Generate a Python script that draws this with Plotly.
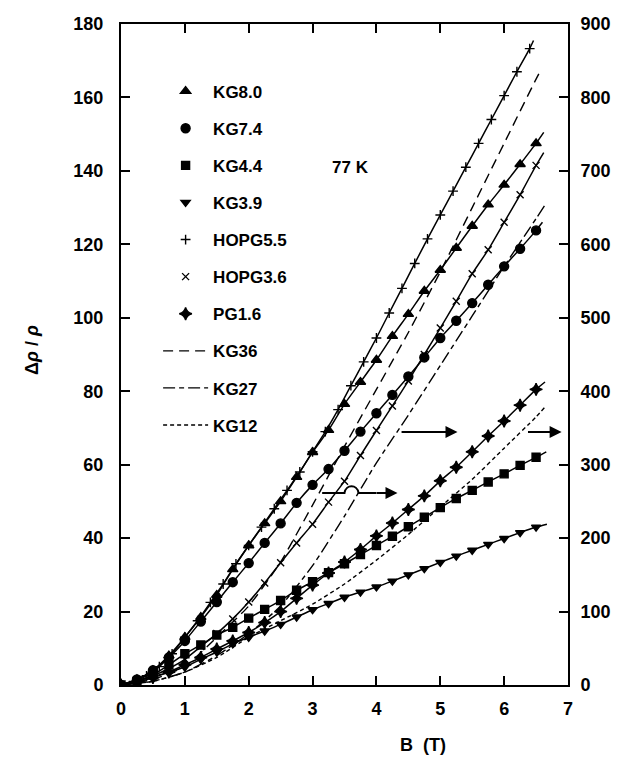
import plotly.graph_objects as go

# ---------------- data ----------------
B25 = [0, 0.25, 0.5, 0.75, 1, 1.25, 1.5, 1.75, 2, 2.25, 2.5, 2.75, 3, 3.25,
       3.5, 3.75, 4, 4.25, 4.5, 4.75, 5, 5.25, 5.5, 5.75, 6, 6.25, 6.5]
B20 = [0, 0.2, 0.4, 0.6, 0.8, 1.0, 1.2, 1.4, 1.6, 1.8, 2.0, 2.2, 2.4, 2.6, 2.8,
       3.0, 3.2, 3.4, 3.6, 3.8, 4.0, 4.2, 4.4, 4.6, 4.8, 5.0, 5.2, 5.4, 5.6,
       5.8, 6.0, 6.2, 6.4]
B50 = [0, 0.5, 1, 1.5, 2, 2.5, 3, 3.5, 4, 4.5, 5, 5.5, 6, 6.5]

# left axis (Δρ/ρ)
KG80 = [0, 1.5, 4, 8, 13, 18.5, 24.5, 31.5, 38, 44, 50, 56.6, 63.4, 69.4,
        76.5, 82.5, 88.5, 95, 101, 107.3, 113, 119, 125, 130.8, 136.2, 141.8, 147.5]
KG80_end = (6.62, 150.5)
KG74 = [0, 1.5, 4, 7.5, 12, 17.3, 22.6, 28, 33.2, 38.7, 44, 49.6, 54.5, 58.8,
        63.8, 69, 74, 79, 84, 89.2, 94.5, 99.2, 104, 109, 114, 118.8, 123.8]
KG74_end = (6.6, 126)
KG44 = [0, 1, 2.8, 5.5, 8.5, 10.9, 13.6, 15.7, 18.2, 20.6, 23, 25.8, 28.1, 30.6,
        33, 35.5, 38, 40.5, 43.1, 45.7, 48.3, 50.8, 53, 55.3, 57.5, 59.8, 62]
KG44_end = (6.66, 63.5)
KG39 = [0, 1.2, 2.3, 3.5, 4.9, 7, 9, 11.2, 13, 14.7, 16.5, 18.5, 20.5, 22.2,
        23.9, 25.3, 26.7, 28.3, 30, 31.7, 33.4, 35.1, 36.7, 38.3, 39.9, 41.5, 43]
KG39_end = (6.67, 43.8)
HOPG55 = [0, 1, 2.5, 5, 8.5, 13, 17.5, 22.5, 27.5, 33, 38, 43, 48, 53, 58,
          63.5, 69, 75, 81.5, 88, 94.5, 101.3, 108, 114.8, 121.5, 128, 134.5,
          141, 147.5, 154, 160.5, 167, 173.3]
HOPG55_end = (6.46, 175.5)
PG16 = [0, 0.8, 2, 3.5, 5.5, 7.5, 9.8, 12, 14.3, 17, 20, 23.6, 27.2, 30.5,
        33.5, 36.9, 40.6, 44.1, 47.8, 51.5, 55.6, 59.3, 63.5, 67.8, 71.9, 76.2, 80.5]
PG16_end = (6.64, 82.5)
KG36 = [0, 1.5, 5, 13, 21.5, 33.5, 49, 65, 80.5, 96, 112.5, 130, 147.5, 165]
KG36_end = (6.56, 167)

# right axis (×5 scale)
HOPG36 = [0, 5, 12.5, 22.5, 35, 52.5, 70, 90, 113, 139, 166.5, 193.5, 219,
          249, 277.5, 312.5, 346.5, 380, 414, 450, 486, 522.5, 560, 592.5,
          630, 667.5, 707.5]
HOPG36_end = (6.62, 725)
KG27 = [0, 5, 17.5, 40, 70, 107.5, 162.5, 230, 302.5, 367.5, 435, 502.5, 570, 635]
KG27_end = (6.64, 653.5)
KG12 = [0, 5, 17.5, 37.5, 65, 87.5, 110, 137.5, 170, 205, 242.5, 280, 322.5, 365]
KG12_end = (6.64, 378.5)

x_ticks = [0, 1, 2, 3, 4, 5, 6, 7]
yl_ticks = [0, 20, 40, 60, 80, 100, 120, 140, 160, 180]
yr_ticks = [0, 100, 200, 300, 400, 500, 600, 700, 800, 900]

# ---------------- figure ----------------
FONT = "Liberation Sans"
BOLD = dict(family=FONT, color="black", weight="bold")
fig = go.Figure()

marker_series = [
    ("KG8.0", B25, KG80, KG80_end, "triangle-up", 9, "y"),
    ("KG7.4", B25, KG74, KG74_end, "circle", 9, "y"),
    ("KG4.4", B25, KG44, KG44_end, "square", 8, "y"),
    ("KG3.9", B25, KG39, KG39_end, "triangle-down", 8, "y"),
    ("HOPG5.5", B20, HOPG55, HOPG55_end, "cross-thin", 7, "y"),
    ("HOPG3.6", B25, HOPG36, HOPG36_end, "x-thin", 7, "y2"),
    ("PG1.6", B25, PG16, PG16_end, "star-diamond", 9, "y"),
]

for name, xs, ys, end, sym, size, ax in marker_series:
    fig.add_trace(go.Scatter(
        x=xs + [end[0]], y=ys + [end[1]], mode="lines", yaxis=ax,
        line=dict(color="black", width=1.5, shape="spline", smoothing=0.5),
        showlegend=False, hoverinfo="skip"))

for name, xs, ys, end, sym, size, ax in marker_series:
    fig.add_trace(go.Scatter(
        x=xs, y=ys, mode="markers", name=name, yaxis=ax, legendgroup=name,
        marker=dict(symbol=sym, size=size, color="black",
                    line=dict(color="black", width=1.4))))

line_series = [
    ("KG36", KG36, KG36_end, "10px,6px", "y"),
    ("KG27", KG27, KG27_end, "12px,4px,5px,4px", "y2"),
    ("KG12", KG12, KG12_end, "4px,3px", "y2"),
]
for name, ys, end, dash, ax in line_series:
    fig.add_trace(go.Scatter(
        x=B50 + [end[0]], y=ys + [end[1]], mode="lines", name=name, yaxis=ax,
        legendgroup=name,
        line=dict(color="black", width=1.4, dash=dash, shape="spline", smoothing=0.5)))

axis_common = dict(
    showline=True, linecolor="black", linewidth=2,
    ticks="inside", ticklen=9, tickwidth=1.5, tickcolor="black",
    showgrid=False, zeroline=False, automargin=False,
    tickfont=dict(size=18, **BOLD),
)

fig.update_layout(
    width=627, height=757,
    margin=dict(l=113, r=67, t=16, b=80),
    paper_bgcolor="white", plot_bgcolor="white",
    xaxis=dict(range=[0, 7], tickvals=x_ticks, mirror="ticks",
               ticklabelstandoff=6, **axis_common),
    yaxis=dict(range=[0, 180], tickvals=yl_ticks, mirror=True,
               ticklabelstandoff=12, **axis_common),
    yaxis2=dict(range=[0, 900], tickvals=yr_ticks, overlaying="y", side="right",
                ticklabelstandoff=7, **axis_common),
    legend=dict(x=0.083, y=0.925, xanchor="left", yanchor="top",
                bgcolor="rgba(0,0,0,0)", traceorder="grouped",
                tracegroupgap=12, itemwidth=45,
                font=dict(size=17, **BOLD)),
    showlegend=True,
)

# axis titles
fig.add_annotation(x=-0.199, y=0.507, xref="paper", yref="paper",
                   xanchor="center", yanchor="middle",
                   text="Δ<i>ρ</i> / <i>ρ</i>", textangle=-90, showarrow=False,
                   font=dict(size=18, **BOLD))
fig.add_annotation(x=0.676, y=-0.091, xref="paper", yref="paper",
                   xanchor="center", yanchor="middle",
                   text="B  (T)", showarrow=False, font=dict(size=18, **BOLD))

fig.add_annotation(x=3.6, y=141, xref="x", yref="y", text="77 K", showarrow=False,
                   font=dict(size=17, **BOLD))

# arrows pointing to the right-hand axis
arrow_y = 68.9
fig.add_annotation(x=5.27, y=arrow_y, ax=4.37, ay=arrow_y, xref="x", yref="y",
                   axref="x", ayref="y", text="", showarrow=True,
                   arrowhead=2, arrowsize=1.2, arrowwidth=2, arrowcolor="black")
fig.add_annotation(x=6.9, y=arrow_y, ax=6.35, ay=arrow_y, xref="x", yref="y",
                   axref="x", ayref="y", text="", showarrow=True,
                   arrowhead=2, arrowsize=1.2, arrowwidth=2, arrowcolor="black")
# arrow hopping over a curve
sq_y = 52.3
fig.add_shape(type="path", xref="x", yref="y",
              path=f"M 3.15 {sq_y} L 3.5 {sq_y} C 3.52 {sq_y+2.4}, 3.7 {sq_y+2.4}, 3.72 {sq_y} L 4.0 {sq_y}",
              line=dict(color="black", width=2))
fig.add_annotation(x=4.33, y=sq_y, ax=3.98, ay=sq_y, xref="x", yref="y",
                   axref="x", ayref="y", text="", showarrow=True,
                   arrowhead=2, arrowsize=1.2, arrowwidth=2, arrowcolor="black")

fig.write_html("out.html")
